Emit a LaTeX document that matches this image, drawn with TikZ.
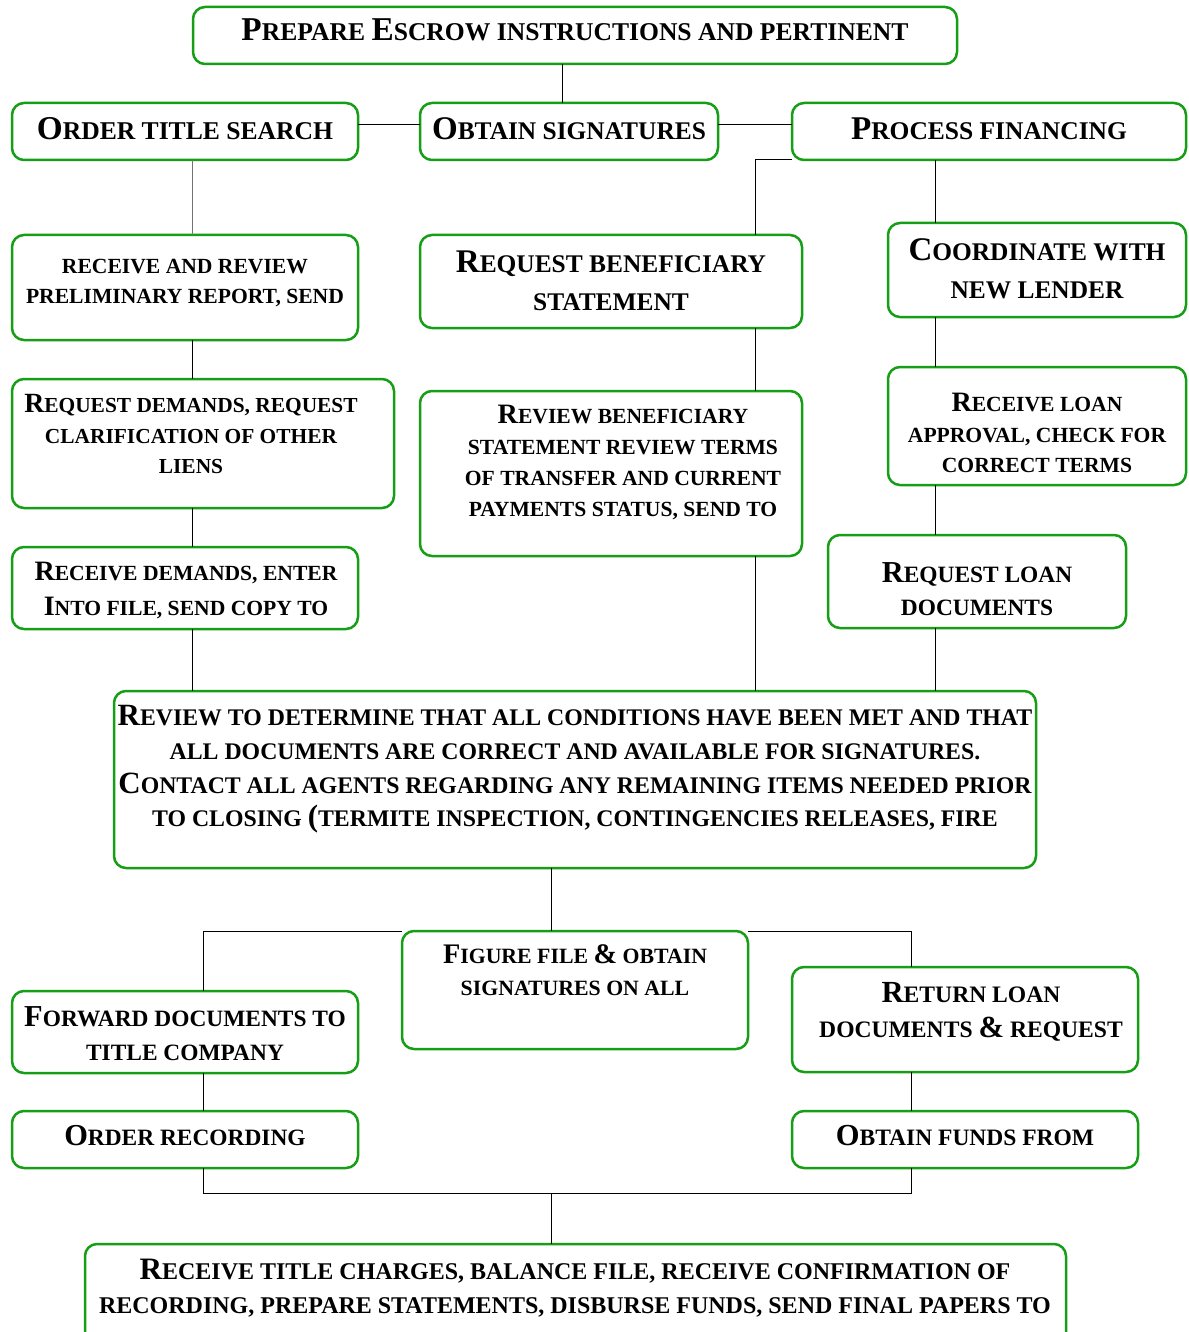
\documentclass[tikz,border=0pt]{standalone}
\usepackage{fontspec}
\usepackage{graphicx}
\setmainfont{Liberation Serif}
\definecolor{boxgreen}{rgb}{0.09,0.62,0.09}
\newcommand\B[1]{\scalebox{1.3}{#1}}
\newcommand\fs[2]{\fontsize{#1}{#2}\selectfont\bfseries}
\begin{document}
\begin{tikzpicture}[x=0.5pt,y=-0.5pt,
  box/.style={draw=boxgreen, line width=1.25pt, rounded corners=6pt, fill=white, inner sep=0pt, outer sep=0pt},
  txt/.style={inner sep=0pt, anchor=north, align=center},
  conn/.style={draw=black, line width=0.5pt},
  faint/.style={draw=black!55, line width=0.4pt}]
\useasboundingbox (0,0) rectangle (1188,1332);
\clip (0,0) rectangle (1188,1332);
\fill[white] (0,0) rectangle (1188,1332);
% helper coordinates
\coordinate (X192) at (192,0);
\coordinate (X203) at (203,0);
\coordinate (X551) at (551,0);
\coordinate (X562) at (562,0);
\coordinate (X755) at (755,0);
\coordinate (X911) at (911,0);
\coordinate (X935) at (935,0);
\coordinate (Y125) at (0,125);
\coordinate (Y1193) at (0,1193);
% boxes
\node[box, minimum width=382pt, minimum height=28.5pt] (top) at (575,35.5) {};
\node[box, minimum width=173pt, minimum height=28.5pt] (ots) at (185,131.5) {};
\node[box, minimum width=149pt, minimum height=28.5pt] (obt) at (569,131.5) {};
\node[box, minimum width=197pt, minimum height=28.5pt] (pf) at (989,131.5) {};
\node[box, minimum width=173pt, minimum height=52.5pt] (rr) at (185,287.5) {};
\node[box, minimum width=191pt, minimum height=64.5pt] (rd) at (203,443.5) {};
\node[box, minimum width=173pt, minimum height=41pt] (rcd) at (185,588) {};
\node[box, minimum width=191pt, minimum height=46.5pt] (rb) at (611,281.5) {};
\node[box, minimum width=191pt, minimum height=82.5pt] (rvb) at (611,473.5) {};
\node[box, minimum width=149pt, minimum height=47pt] (co) at (1037,270) {};
\node[box, minimum width=149pt, minimum height=59pt] (rl) at (1037,426) {};
\node[box, minimum width=149pt, minimum height=46.5pt] (rql) at (977,581.5) {};
\node[box, minimum width=461pt, minimum height=88.5pt] (big) at (575,779.5) {};
\node[box, minimum width=173pt, minimum height=59pt] (fig) at (575,990) {};
\node[box, minimum width=173pt, minimum height=41pt] (fwd) at (185,1032) {};
\node[box, minimum width=173pt, minimum height=28.5pt] (ordrec) at (185,1139.5) {};
\node[box, minimum width=173pt, minimum height=52.5pt] (ret) at (965,1019.5) {};
\node[box, minimum width=173pt, minimum height=28.5pt] (obf) at (965,1139.5) {};
\node[box, minimum width=490.5pt, minimum height=58pt] (bot) at (575.5,1302) {};
% texts
\node[txt, font=\fs{12.8}{16}] (ttop) at (575,18) {\B{P}REPARE \B{E}SCROW INSTRUCTIONS AND PERTINENT};
\node[txt, font=\fs{12.8}{16}] (tots) at (185,117) {\B{O}RDER TITLE SEARCH};
\node[txt, font=\fs{12.7}{16}] (tobt) at (569,117) {\B{O}BTAIN SIGNATURES};
\node[txt, font=\fs{12.75}{16}] (tpf) at (989,117) {\B{P}ROCESS FINANCING};
\node[txt, font=\fs{10.8}{15}] (trr) at (185,259) {RECEIVE AND REVIEW\\PRELIMINARY REPORT, SEND};
\node[txt, font=\fs{10.7}{15.25}] (trd) at (191,394) {\B{R}EQUEST DEMANDS, REQUEST\\CLARIFICATION OF OTHER\\LIENS};
\node[txt, font=\fs{10.8}{17.5}] (trcd) at (186,562) {\B{R}ECEIVE DEMANDS, ENTER\\\B{I}NTO FILE, SEND COPY TO};
\node[txt, font=\fs{12.7}{19}] (trb) at (611,250) {\B{R}EQUEST BENEFICIARY\\STATEMENT};
\node[txt, font=\fs{10.8}{15.5}] (trvb) at (623,405) {\B{R}EVIEW BENEFICIARY\\STATEMENT REVIEW TERMS\\OF TRANSFER AND CURRENT\\PAYMENTS STATUS, SEND TO};
\node[txt, font=\fs{12.7}{19}] (tco) at (1037,238) {\B{C}OORDINATE WITH\\NEW LENDER};
\node[txt, font=\fs{10.8}{15.25}] (trl) at (1037,393) {\B{R}ECEIVE LOAN\\APPROVAL, CHECK FOR\\CORRECT TERMS};
\node[txt, font=\fs{11.7}{16.5}] (trql) at (977,562) {\B{R}EQUEST LOAN\\DOCUMENTS};
\node[txt, font=\fs{11.9}{16.85}] (tbig) at (575,705) {\B{R}EVIEW TO DETERMINE THAT ALL CONDITIONS HAVE BEEN MET AND THAT\\ALL DOCUMENTS ARE CORRECT AND AVAILABLE FOR SIGNATURES.\\\B{C}ONTACT ALL AGENTS REGARDING ANY REMAINING ITEMS NEEDED PRIOR\\TO CLOSING \B{(}TERMITE INSPECTION, CONTINGENCIES RELEASES, FIRE};
\node[txt, font=\fs{10.9}{16}] (tfig) at (575,944) {\B{F}IGURE FILE \B{\&} OBTAIN\\SIGNATURES ON ALL};
\node[txt, font=\fs{11.7}{17}] (tfwd) at (185,1006) {\B{F}ORWARD DOCUMENTS TO\\TITLE COMPANY};
\node[txt, font=\fs{11.7}{16}] (tordrec) at (185,1125) {\B{O}RDER RECORDING};
\node[txt, font=\fs{11.8}{17.5}] (tret) at (971,982) {\B{R}ETURN LOAN\\DOCUMENTS \B{\&} REQUEST};
\node[txt, font=\fs{11.75}{16}] (tobf) at (965,1125) {\B{O}BTAIN FUNDS FROM};
\node[txt, font=\fs{12}{17}] (tbot) at (575,1259) {\B{R}ECEIVE TITLE CHARGES, BALANCE FILE, RECEIVE CONFIRMATION OF\\RECORDING, PREPARE STATEMENTS, DISBURSE FUNDS, SEND FINAL PAPERS TO};
% connectors
\draw[conn] (top.south -| X562) -- (obt.north -| X562);
\draw[conn] (ots.east |- Y125) -- (obt.west |- Y125);
\draw[conn] (obt.east |- Y125) -- (pf.west |- Y125);
\draw[faint] (ots.south -| X192) -- (rr.north -| X192);
\draw[conn] (rr.south -| X192) -- (rd.north -| X192);
\draw[conn] (rd.south -| X192) -- (rcd.north -| X192);
\draw[conn] (rcd.south -| X192) -- (big.north -| X192);
\draw[conn] (pf.south west) -- (pf.south west -| X755) -- (rb.north -| X755);
\draw[conn] (rb.south -| X755) -- (rvb.north -| X755);
\draw[conn] (rvb.south -| X755) -- (big.north -| X755);
\draw[conn] (pf.south -| X935) -- (co.north -| X935);
\draw[conn] (co.south -| X935) -- (rl.north -| X935);
\draw[conn] (rl.south -| X935) -- (rql.north -| X935);
\draw[conn] (rql.south -| X935) -- (big.north -| X935);
\draw[conn] (big.south -| X551) -- (fig.north -| X551);
\draw[conn] (fig.north west) -- (fig.north west -| X203) -- (fwd.north -| X203);
\draw[conn] (fig.north east) -- (fig.north east -| X911) -- (ret.north -| X911);
\draw[conn] (fwd.south -| X203) -- (ordrec.north -| X203);
\draw[conn] (ret.south -| X911) -- (obf.north -| X911);
\draw[conn] (ordrec.south -| X203) -- (X203 |- Y1193) -- (X911 |- Y1193) -- (obf.south -| X911);
\draw[conn] (X551 |- Y1193) -- (bot.north -| X551);
\end{tikzpicture}
\end{document}
